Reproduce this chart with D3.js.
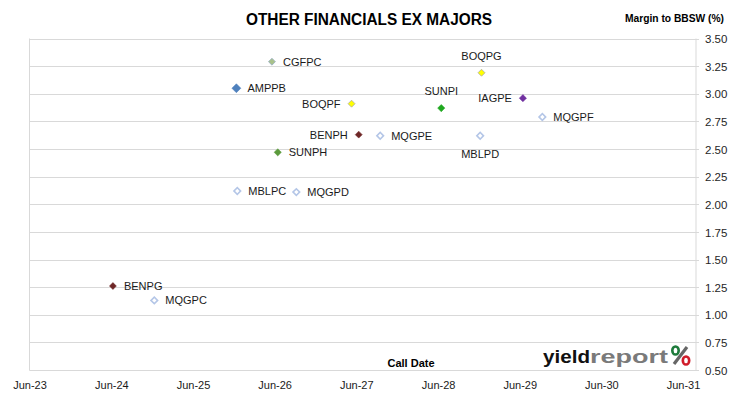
<!DOCTYPE html>
<html>
<head>
<meta charset="utf-8">
<script src="https://cdn.jsdelivr.net/npm/d3@7/dist/d3.min.js"></script>
<style>
  html, body { margin: 0; padding: 0; background: #fff; }
  svg { display: block; }
  text { font-family: "Liberation Sans", Arial, sans-serif; }
</style>
</head>
<body>
<svg id="chart" width="730" height="399"></svg>
<script>
// ---- data ----
const securities = ["CGFPC","AMPPB","BOQPF","BENPH","MQGPE","SUNPH","MBLPC","MQGPD",
                    "BOQPG","SUNPI","IAGPE","MQGPF","MBLPD","BENPG","MQGPC"];
const callDates  = ["2026-05-20","2025-12-12","2027-05-11","2027-06-12","2027-09-16","2026-06-15","2025-12-16","2026-09-06",
                    "2028-12-12","2028-06-15","2029-06-15","2029-09-10","2028-12-06","2024-06-08","2024-12-10"];
const margins    = [3.29, 3.05, 2.91, 2.63, 2.62, 2.47, 2.12, 2.11,
                    3.19, 2.87, 2.96, 2.79, 2.62, 1.26, 1.13];
const yTicks = [0.50,0.75,1.00,1.25,1.50,1.75,2.00,2.25,2.50,2.75,3.00,3.25,3.50];
const xTickYears = [2023,2024,2025,2026,2027,2028,2029,2030,2031];

// ---- styles (not data) ----
const hollow = {fill:"#ffffff", stroke:"#b4c6e7", sw:1.6, size:22};
const styleOf = {
  CGFPC:{fill:"#a9c28a", stroke:"#9bb0c8", sw:0.8, size:24, pos:"right"},
  AMPPB:{fill:"#4f81bd", stroke:"#4f81bd", sw:0.5, size:40, pos:"right"},
  BOQPF:{fill:"#ffff00", stroke:"#b0b0a0", sw:0.8, size:24, pos:"left"},
  BENPH:{fill:"#6e2626", stroke:"#6e2626", sw:0.5, size:24, pos:"left"},
  MQGPE:Object.assign({pos:"right"}, hollow),
  SUNPH:{fill:"#5b9a3c", stroke:"#5b9a3c", sw:0.5, size:26, pos:"right"},
  MBLPC:Object.assign({pos:"right"}, hollow),
  MQGPD:Object.assign({pos:"right"}, hollow),
  BOQPG:{fill:"#ffff00", stroke:"#b0b0a0", sw:0.8, size:24, pos:"above"},
  SUNPI:{fill:"#1fa81f", stroke:"#1fa81f", sw:0.5, size:26, pos:"above"},
  IAGPE:{fill:"#7030a0", stroke:"#7030a0", sw:0.5, size:26, pos:"left"},
  MQGPF:Object.assign({pos:"right"}, hollow),
  MBLPD:Object.assign({pos:"below"}, hollow),
  BENPG:{fill:"#6e2626", stroke:"#6e2626", sw:0.5, size:24, pos:"right"},
  MQGPC:Object.assign({pos:"right"}, hollow)
};

const parse = d3.timeParse("%Y-%m-%d");
const points = securities.map((s,i)=>({name:s, date:parse(callDates[i]), v:margins[i]}));

const svg = d3.select("#chart");
const L = 29.5, R = 696, T = 38.5, B = 370;

const x = d3.scaleTime()
  .domain([new Date(2023,5,1), new Date(2031,6,29)])
  .range([L, R]);
const y = d3.scaleLinear().domain([0.5, 3.5]).range([B, T]);

// gridlines
svg.append("g")
  .selectAll("line").data(yTicks).join("line")
  .attr("x1", L).attr("x2", R + 3)
  .attr("y1", d => Math.round(y(d)) + 0.5).attr("y2", d => Math.round(y(d)) + 0.5)
  .attr("stroke", "#d9d9d9").attr("stroke-width", 1);

// left border & right axis line
svg.append("line").attr("x1", L).attr("x2", L).attr("y1", T).attr("y2", B + 0.5)
  .attr("stroke", "#d9d9d9");
svg.append("line").attr("x1", R).attr("x2", R).attr("y1", T).attr("y2", B + 0.5)
  .attr("stroke", "#d9d9d9");

// right axis labels
const yAxis = d3.axisRight(y).tickValues(yTicks).tickFormat(d3.format(".2f")).tickSize(0).tickPadding(9);
const ya = svg.append("g").attr("transform", `translate(${R},0.5)`).call(yAxis);
ya.select(".domain").remove();
ya.selectAll("text").attr("font-size", 11.5).attr("fill", "#262626")
  .attr("font-family", "'Liberation Sans', Arial, sans-serif");

// bottom axis
const xAxis = d3.axisBottom(x)
  .tickValues(xTickYears.map(yr => new Date(yr,5,1)))
  .tickFormat(d3.timeFormat("%b-%y")).tickSize(0).tickPadding(11);
const xa = svg.append("g").attr("transform", `translate(0,${B})`).call(xAxis);
xa.select(".domain").attr("stroke", "#d9d9d9");
xa.selectAll("text").attr("font-size", 11).attr("fill", "#1a1a1a")
  .attr("font-family", "'Liberation Sans', Arial, sans-serif");

// markers
const sym = d3.symbol().type(d3.symbolSquare);
const g = svg.append("g");
g.selectAll("path").data(points).join("path")
  .attr("transform", d => `translate(${x(d.date)},${y(d.v)}) rotate(45)`)
  .attr("d", d => sym.size(styleOf[d.name].size)())
  .attr("fill", d => styleOf[d.name].fill)
  .attr("stroke", d => styleOf[d.name].stroke)
  .attr("stroke-width", d => styleOf[d.name].sw);

// labels
g.selectAll("text").data(points).join("text")
  .attr("x", d => {
    const p = styleOf[d.name].pos, cx = x(d.date);
    return p === "right" ? cx + 11 : p === "left" ? cx - 11 : cx;
  })
  .attr("y", d => {
    const p = styleOf[d.name].pos, cy = y(d.v);
    return p === "above" ? cy - 16 : p === "below" ? cy + 19 : cy + 1;
  })
  .attr("text-anchor", d => {
    const p = styleOf[d.name].pos;
    return p === "right" ? "start" : p === "left" ? "end" : "middle";
  })
  .attr("dominant-baseline", "middle")
  .attr("font-size", 11)
  .attr("fill", "#1a1a1a")
  .text(d => d.name);

// title
svg.append("text").attr("x", 369).attr("y", 25).attr("text-anchor", "middle")
  .attr("font-size", 16).attr("font-weight", "bold").attr("fill", "#000")
  .attr("textLength", 246).attr("lengthAdjust", "spacingAndGlyphs")
  .text("OTHER FINANCIALS EX MAJORS");

svg.append("text").attr("x", 625).attr("y", 22).attr("text-anchor", "start")
  .attr("font-size", 10.5).attr("font-weight", "bold").attr("fill", "#000")
  .attr("textLength", 99).attr("lengthAdjust", "spacingAndGlyphs")
  .text("Margin to BBSW (%)");

svg.append("text").attr("x", 411).attr("y", 366.5).attr("text-anchor", "middle")
  .attr("font-size", 11).attr("font-weight", "bold").attr("fill", "#000")
  .text("Call Date");

// logo
const logo = svg.append("g");
logo.append("text").attr("x", 543).attr("y", 362.5).attr("font-size", 18).attr("font-weight", "bold")
  .attr("fill", "#111").attr("textLength", 47).attr("lengthAdjust", "spacingAndGlyphs").text("yield");
logo.append("text").attr("x", 590).attr("y", 362.5).attr("font-size", 18).attr("font-weight", "bold")
  .attr("fill", "#7a7a7a").attr("textLength", 78).attr("lengthAdjust", "spacingAndGlyphs").text("report");
logo.append("line").attr("x1", 674).attr("y1", 364).attr("x2", 687).attr("y2", 347)
  .attr("stroke", "#666").attr("stroke-width", 3.2);
logo.append("ellipse").attr("cx", 675.5).attr("cy", 350.5).attr("rx", 3.2).attr("ry", 4)
  .attr("fill", "none").attr("stroke", "#1e7b3c").attr("stroke-width", 2.6);
logo.append("ellipse").attr("cx", 686).attr("cy", 360.5).attr("rx", 3.2).attr("ry", 4)
  .attr("fill", "none").attr("stroke", "#d01c2a").attr("stroke-width", 2.6);
</script>
</body>
</html>
